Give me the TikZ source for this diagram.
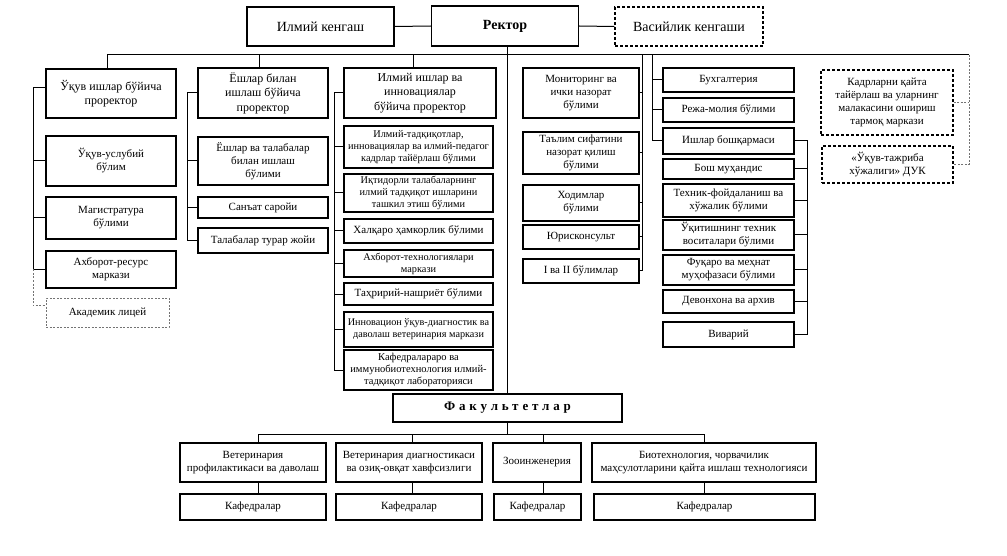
\documentclass[tikz,border=0pt]{standalone}
\usepackage{fontspec}
\setmainfont{Liberation Serif}
\begin{document}
\begin{tikzpicture}[x=1pt,y=-1pt,
  bx/.style={draw, line width=1.1pt, align=center, inner sep=0pt, font=\fontsize{11}{13}\selectfont},
  hd/.style={font=\fontsize{12}{14.5}\selectfont},
  sm/.style={font=\fontsize{10.3}{12}\selectfont},
  md/.style={font=\fontsize{10.2}{12}\selectfont},
  big/.style={font=\fontsize{14}{16}\selectfont},
  wh/.style 2 args={minimum width=#1pt, minimum height=#2pt},
  ln/.style={line width=1pt},
  dsh/.style={line width=0.9pt, dash pattern=on 2pt off 1.5pt, black!55},
  dbx/.style={bx, dash pattern=on 3pt off 2pt}]
\useasboundingbox (0,0) rectangle (1007,556);

% top row
\node[bx,big,wh={147}{39}] (ilmk) at (320.5,26.5) {Илмий кенгаш};
\node[bx,big,wh={147}{40},font=\fontsize{14}{16}\selectfont\bfseries] (rek) at (505,26) {Ректор};
\node[dbx,big,wh={148}{39}] (vas) at (689,26.5) {Васийлик кенгаши};

% column 1
\node[bx,hd,wh={130}{49}] (p1) at (111,93.5) {Ўқув ишлар бўйича\\проректор};
\node[bx,wh={130}{50}] (c1a) at (111,161) {Ўқув-услубий\\бўлим};
\node[bx,wh={130}{42}] (c1b) at (111,218) {Магистратура\\бўлими};
\node[bx,wh={130}{37}] (c1c) at (111,269.5) {Ахборот-ресурс\\маркази};
\node[bx,wh={123}{29},dash pattern=on 2pt off 1.5pt,draw=black!55,line width=0.9pt] (c1d) at (107.5,312.5) {Академик лицей};

% column 2
\node[bx,hd,wh={130}{50}] (p2) at (263,93) {Ёшлар билан\\ишлаш бўйича\\проректор};
\node[bx,wh={130}{48}] (c2a) at (263,161) {Ёшлар ва талабалар\\билан ишлаш\\бўлими};
\node[bx,wh={130}{21}] (c2b) at (263,207.5) {Санъат саройи};
\node[bx,wh={130}{25}] (c2c) at (263,240.5) {Талабалар турар жойи};

% column 3
\node[bx,hd,wh={152}{50}] (p3) at (420,93) {Илмий ишлар ва\\инновациялар\\бўйича проректор};
\node[bx,sm,wh={149}{42}] (c3a) at (418.5,147) {Илмий-тадқиқотлар,\\инновациялар ва илмий-педагог\\кадрлар тайёрлаш бўлими};
\node[bx,sm,wh={149}{38}] (c3b) at (418.5,193) {Иқтидорли талабаларнинг\\илмий тадқиқот ишларини\\ташкил этиш бўлими};
\node[bx,wh={149}{24}] (c3c) at (418.5,231) {Халқаро ҳамкорлик бўлими};
\node[bx,sm,wh={149}{27}] (c3d) at (418.5,263.5) {Ахборот-технологиялари\\маркази};
\node[bx,wh={149}{22}] (c3e) at (418.5,294) {Таҳририй-нашриёт бўлими};
\node[bx,md,wh={149}{35}] (c3f) at (418.5,329.5) {Инновацион ўқув-диагностик ва\\даволаш ветеринария маркази};
\node[bx,sm,wh={149}{40},font=\fontsize{10.5}{12}\selectfont] (c3g) at (418.5,370) {Кафедралараро ва\\иммунобиотехнология илмий-\\тадқиқот лабораторияси};

% column 4
\node[bx,wh={116}{50}] (c4a) at (581,93) {Мониторинг ва\\ички назорат\\бўлими};
\node[bx,wh={116}{42}] (c4b) at (581,153) {Таълим сифатини\\назорат қилиш\\бўлими};
\node[bx,wh={116}{36}] (c4c) at (581,203) {Ходимлар\\бўлими};
\node[bx,wh={116}{24}] (c4d) at (581,237) {Юрисконсульт};
\node[bx,wh={116}{24}] (c4e) at (581,271) {I ва II бўлимлар};

% column 5
\node[bx,wh={131}{24}] (c5a) at (728.5,80) {Бухгалтерия};
\node[bx,wh={131}{24}] (c5b) at (728.5,110) {Режа-молия бўлими};
\node[bx,wh={131}{26}] (c5c) at (728.5,141) {Ишлар бошқармаси};
\node[bx,wh={131}{20}] (c5d) at (728.5,169) {Бош муҳандис};
\node[bx,wh={131}{33}] (c5e) at (728.5,200.5) {Техник-фойдаланиш ва\\хўжалик бўлими};
\node[bx,wh={131}{30}] (c5f) at (728.5,235) {Ўқитишнинг техник\\воситалари бўлими};
\node[bx,wh={131}{30}] (c5g) at (728.5,270) {Фуқаро ва меҳнат\\муҳофазаси бўлими};
\node[bx,wh={131}{23}] (c5h) at (728.5,301.5) {Девонхона ва архив};
\node[bx,wh={131}{25}] (c5i) at (728.5,334.5) {Виварий};

% right dashed
\node[dbx,wh={132}{65}] (r1) at (887,102.5) {Кадрларни қайта\\тайёрлаш ва уларнинг\\малакасини ошириш\\тармоқ маркази};
\node[dbx,wh={131}{37}] (r2) at (887.5,164.5) {«Ўқув-тажриба\\хўжалиги» ДУК};

% faculties
\node[bx,wh={229}{28},font=\fontsize{13}{15}\selectfont\bfseries\addfontfeatures{LetterSpace=30}] (fak) at (507.5,408) {Факультетлар};
\node[bx,wh={146}{39}] (f1) at (253,462.5) {Ветеринария\\профилактикаси ва даволаш};
\node[bx,wh={146}{39}] (f2) at (409,462.5) {Ветеринария диагностикаси\\ва озиқ-овқат хавфсизлиги};
\node[bx,wh={88}{39}] (f3) at (537,462.5) {Зооинженерия};
\node[bx,wh={224}{39}] (f4) at (704,462.5) {Биотехнология, чорвачилик\\маҳсулотларини қайта ишлаш технологияси};
\node[bx,wh={146}{26}] (k1) at (253,507) {Кафедралар};
\node[bx,wh={146}{26}] (k2) at (409,507) {Кафедралар};
\node[bx,wh={87}{26}] (k3) at (537.5,507) {Кафедралар};
\node[bx,wh={221}{26}] (k4) at (704.5,507) {Кафедралар};

% connectors top
\draw[ln] (ilmk.east) -- (rek.west);
\draw[ln] (rek.east) -- (vas.west);
\draw[ln] (rek.south -| fak.north) -- (fak.north);

\coordinate (busL) at (107,55);
\coordinate (busR) at (969,55);
\coordinate (b2) at (259,55);
\coordinate (b3) at (413,55);
\coordinate (b4) at (642,55);
\coordinate (b5) at (652,55);
\draw[ln] (busL) -- (busR);
\draw[ln] (busL) -- (busL |- p1.north);
\draw[ln] (b2) -- (b2 |- p2.north);
\draw[ln] (b3) -- (b3 |- p3.north);

% column 1 spine
\coordinate (s1) at (33,0);
\draw[ln] ([yshift=6pt]p1.west) -| (s1 |- c1c.west) -- (c1c.west);
\foreach \n in {c1a,c1b} \draw[ln] (\n.west) -- (\n.west -| s1);
\draw[dsh] (c1c.west -| s1) |- ([yshift=7pt]c1d.west);

% column 2 spine
\coordinate (s2) at (187,0);
\draw[ln] (p2.west) -| (s2 |- c2c.west) -- (c2c.west);
\foreach \n in {c2a,c2b} \draw[ln] (\n.west) -- (\n.west -| s2);

% column 3 spine
\coordinate (s3) at (334,0);
\draw[ln] (p3.west) -| (s3 |- c3g.west) -- (c3g.west);
\foreach \n in {c3a,c3b,c3c,c3d,c3e,c3f} \draw[ln] (\n.west) -- (\n.west -| s3);

% column 4 spine
\draw[ln] (b4) -- (b4 |- c4e.east) -- (c4e.east);
\foreach \n in {c4a,c4b,c4c,c4d} \draw[ln] (\n.east) -- (\n.east -| b4);

% column 5 spines
\draw[ln] (b5) |- (c5c.west);
\foreach \n in {c5a,c5b} \draw[ln] (\n.west) -- (\n.west -| b5);
\coordinate (s5) at (807,0);
\draw[ln] (c5c.east) -| (s5 |- c5i.east) -- (c5i.east);
\foreach \n in {c5d,c5e,c5f,c5g,c5h} \draw[ln] (\n.east) -- (\n.east -| s5);

% right dashed
\draw[dsh] (busR) |- (r2.east);
\draw[dsh] (r1.east) -- (r1.east -| busR);

% faculties
\coordinate (bb1) at (258,434);
\coordinate (bb2) at (412,434);
\coordinate (bb3) at (543,434);
\coordinate (bb4) at (704,434);
\draw[ln] (bb1) -- (bb4);
\draw[ln] (fak.south) -- (fak.south |- bb1);
\draw[ln] (bb1) -- (bb1 |- f1.north);
\draw[ln] (bb2) -- (bb2 |- f2.north);
\draw[ln] (bb3) -- (bb3 |- f3.north);
\draw[ln] (bb4) -- (bb4 |- f4.north);
\draw[ln] (bb1 |- f1.south) -- (bb1 |- k1.north);
\draw[ln] (bb2 |- f2.south) -- (bb2 |- k2.north);
\draw[ln] (bb3 |- f3.south) -- (bb3 |- k3.north);
\draw[ln] (bb4 |- f4.south) -- (bb4 |- k4.north);
\end{tikzpicture}
\end{document}
